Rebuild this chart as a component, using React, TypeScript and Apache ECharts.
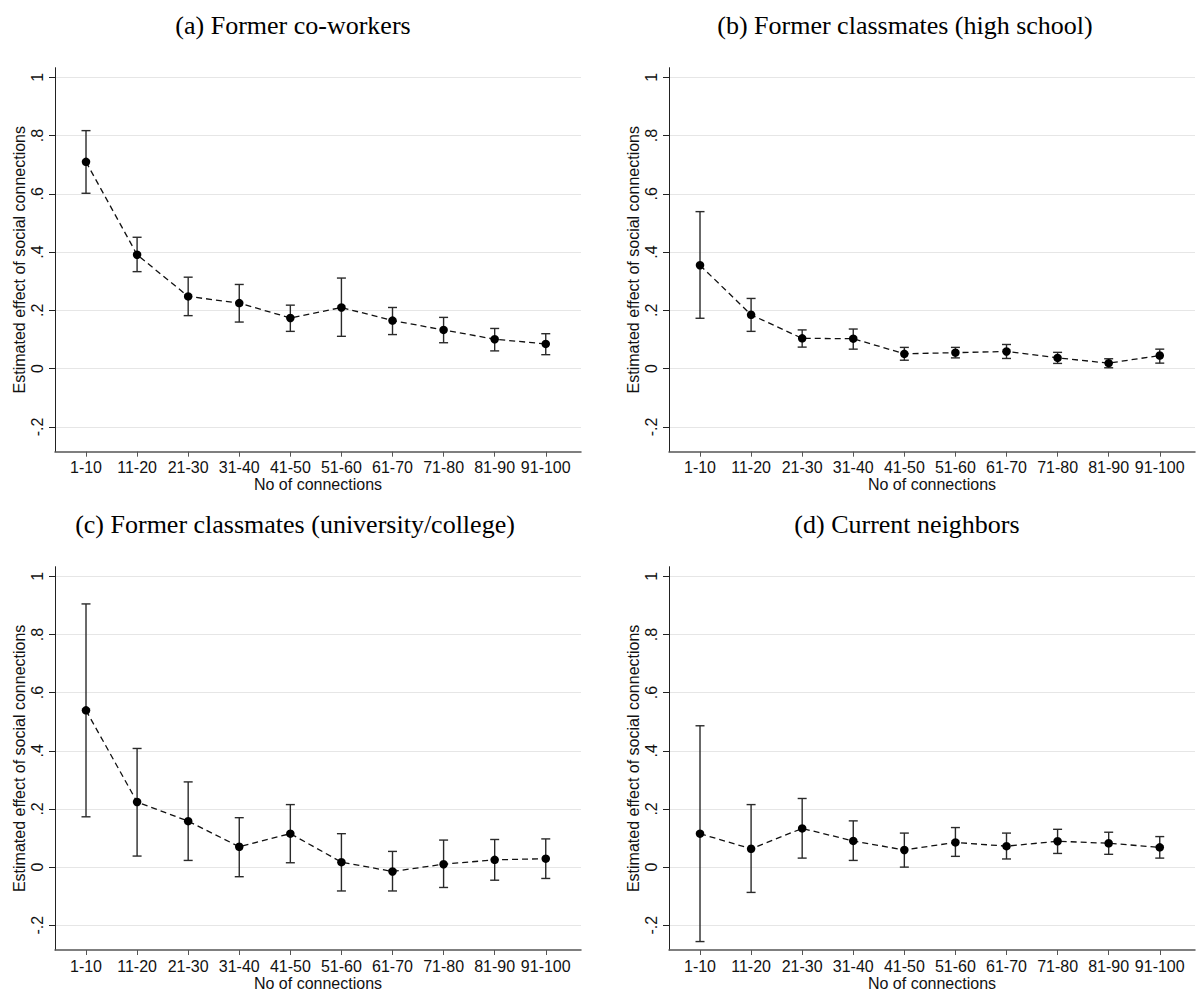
import React, { useEffect, useRef } from "react";
import * as echarts from "echarts";

const categories = ["1-10", "11-20", "21-30", "31-40", "41-50", "51-60", "61-70", "71-80", "81-90", "91-100"];
const yTicks = [-0.2, 0, 0.2, 0.4, 0.6, 0.8, 1];

const titleA = "(a) Former co-workers";
const estA = [0.710, 0.391, 0.248, 0.225, 0.174, 0.210, 0.165, 0.133, 0.101, 0.085];
const loA = [0.602, 0.333, 0.182, 0.160, 0.128, 0.111, 0.117, 0.089, 0.061, 0.048];
const hiA = [0.817, 0.451, 0.314, 0.289, 0.218, 0.311, 0.210, 0.176, 0.138, 0.120];

const titleB = "(b) Former classmates (high school)";
const estB = [0.355, 0.185, 0.104, 0.103, 0.051, 0.055, 0.059, 0.037, 0.019, 0.045];
const loB = [0.173, 0.128, 0.074, 0.067, 0.029, 0.037, 0.035, 0.018, 0.003, 0.019];
const hiB = [0.539, 0.241, 0.133, 0.136, 0.073, 0.073, 0.083, 0.056, 0.034, 0.067];

const titleC = "(c) Former classmates (university/college)";
const estC = [0.539, 0.224, 0.158, 0.070, 0.115, 0.017, -0.015, 0.010, 0.025, 0.029];
const loC = [0.173, 0.038, 0.023, -0.033, 0.015, -0.082, -0.082, -0.070, -0.045, -0.039];
const hiC = [0.905, 0.408, 0.293, 0.170, 0.215, 0.115, 0.054, 0.093, 0.095, 0.097];

const titleD = "(d) Current neighbors";
const estD = [0.115, 0.063, 0.133, 0.090, 0.059, 0.085, 0.072, 0.089, 0.082, 0.068];
const loD = [-0.256, -0.087, 0.031, 0.023, 0.000, 0.037, 0.028, 0.047, 0.044, 0.031];
const hiD = [0.486, 0.215, 0.236, 0.159, 0.117, 0.136, 0.117, 0.130, 0.120, 0.105];

const yName = "Estimated effect of social connections";
const xName = "No of connections";

const SANS = "'Liberation Sans', Arial, Helvetica, sans-serif";
const SERIF = "'Liberation Serif', 'Times New Roman', Times, serif";

const panels = [
  { title: titleA, est: estA, lo: loA, hi: hiA, left: 55, top: 67.7, tx: 293, ty: 25.5 },
  { title: titleB, est: estB, lo: loB, hi: hiB, left: 669, top: 67.7, tx: 905, ty: 25.5 },
  { title: titleC, est: estC, lo: loC, hi: hiC, left: 55, top: 566.7, tx: 295, ty: 524.5 },
  { title: titleD, est: estD, lo: loD, hi: hiD, left: 669, top: 566.7, tx: 907, ty: 524.5 },
];

const fmtY = (v: number) => {
  if (Math.abs(v) < 1e-9) return "0";
  if (Math.abs(v - 1) < 1e-9) return "1";
  return String(Math.round(v * 10) / 10).replace("0.", ".");
};

export default function App() {
  const ref = useRef<HTMLDivElement>(null);
  useEffect(() => {
    if (!ref.current) return;
    const chart = echarts.init(ref.current, null, { renderer: "svg" });
    const xs = categories.map((_, i) => i + 1);
    const grid: any[] = [];
    const xAxis: any[] = [];
    const yAxis: any[] = [];
    const series: any[] = [];
    const graphic: any[] = [];
    panels.forEach((p, k) => {
      grid.push({ left: p.left, top: p.top, width: 526, height: 384, containLabel: false });
      xAxis.push({
        type: "value",
        gridIndex: k,
        min: 0.393,
        max: 10.69,
        name: xName,
        nameLocation: "middle",
        nameGap: 25,
        nameTextStyle: { fontFamily: SANS, fontSize: 16, color: "#111" },
        axisLine: { show: true, onZero: false, lineStyle: { color: "#555", width: 1.5 } },
        axisTick: { show: true, customValues: xs, length: 5, lineStyle: { color: "#555", width: 1 } },
        axisLabel: {
          customValues: xs,
          margin: 8,
          fontFamily: SANS,
          fontSize: 16,
          color: "#111",
          formatter: (v: number) => categories[Math.round(v) - 1] ?? "",
        },
        splitLine: { show: false },
      });
      yAxis.push({
        type: "value",
        gridIndex: k,
        min: -0.285,
        max: 1.033,
        name: yName,
        nameLocation: "middle",
        nameGap: 28,
        nameTextStyle: { fontFamily: SANS, fontSize: 16, color: "#111" },
        axisLine: { show: true, onZero: false, lineStyle: { color: "#222", width: 1 } },
        axisTick: { show: true, customValues: yTicks, length: 6, lineStyle: { color: "#222", width: 1 } },
        axisLabel: {
          customValues: yTicks,
          rotate: 90,
          margin: 10,
          fontFamily: SANS,
          fontSize: 16,
          color: "#111",
          formatter: fmtY,
        },
        splitLine: { show: false },
      });
      series.push({
        type: "custom",
        xAxisIndex: k,
        yAxisIndex: k,
        z: 2,
        data: xs.map((x, i) => [x, p.lo[i], p.hi[i]]),
        encode: { x: 0, y: [1, 2] },
        renderItem: (params: any, api: any) => {
          const x = api.value(0);
          const a = api.coord([x, api.value(1)]);
          const b = api.coord([x, api.value(2)]);
          const h = 4.5;
          const st = { stroke: "#2a2a2a", lineWidth: 1.4 };
          return {
            type: "group",
            children: [
              { type: "line", shape: { x1: a[0], y1: a[1], x2: b[0], y2: b[1] }, style: st },
              { type: "line", shape: { x1: a[0] - h, y1: a[1], x2: a[0] + h, y2: a[1] }, style: st },
              { type: "line", shape: { x1: b[0] - h, y1: b[1], x2: b[0] + h, y2: b[1] }, style: st },
            ],
          };
        },
        markLine: {
          silent: true,
          symbol: "none",
          z: 0,
          label: { show: false },
          lineStyle: { color: "#e6e6e6", type: "solid", width: 1.2 },
          data: yTicks.map((v) => ({ yAxis: v })),
        },
      });
      series.push({
        type: "line",
        xAxisIndex: k,
        yAxisIndex: k,
        z: 3,
        data: xs.map((x, i) => [x, p.est[i]]),
        symbol: "circle",
        symbolSize: 8.5,
        itemStyle: { color: "#000" },
        lineStyle: { color: "#111", width: 1.3, type: [6, 4] },
      });
      graphic.push({
        type: "text",
        x: p.tx,
        y: p.ty,
        style: {
          text: p.title,
          font: `26px ${SERIF}`,
          fill: "#000",
          textAlign: "center",
          textVerticalAlign: "middle",
        },
      });
    });
    chart.setOption({
      animation: false,
      backgroundColor: "#fff",
      grid,
      xAxis,
      yAxis,
      series,
      graphic,
    });
    return () => chart.dispose();
  }, []);
  return (
    <div
      ref={ref}
      style={{ position: "fixed", left: 0, top: 0, width: 1196, height: 992, background: "#fff" }}
    />
  );
}
